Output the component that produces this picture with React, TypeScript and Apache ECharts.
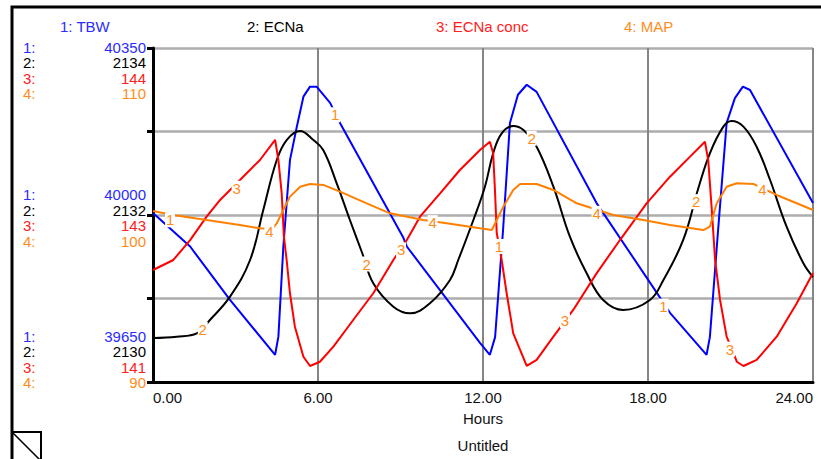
import React, { useEffect, useRef } from 'react';
import * as echarts from 'echarts';

const FONT = '"Liberation Sans", Arial, sans-serif';
const FS = 15;

const legendNames = ['1: TBW', '2: ECNa', '3: ECNa conc', '4: MAP'];
const lineColors = ['#0000ff', '#000000', '#ff0000', '#ff8000'];
const textColors = ['#2b2bff', '#000000', '#ff2020', '#ff8c1a'];
const labelOrange = '#ff8c1a';
const smoothing = [false, 0.4, false, false];

const xTicks = [0, 6, 12, 18, 24];
const tbwRange = [39650, 40350];
const ecnaRange = [2130, 2134];
const concRange = [141, 144];
const mapRange = [90, 110];

const tickLabelsTop = ['40350', '2134', '144', '110'];
const tickLabelsMid = ['40000', '2132', '143', '100'];
const tickLabelsBottom = ['39650', '2130', '141', '90'];

// 1: TBW
const tbw: [number, number][] = [
  [0, 40004], [1.35, 39934], [2.8, 39822], [4.44, 39707], [4.56, 39745], [4.74, 39934],
  [4.98, 40115], [5.23, 40185], [5.47, 40248], [5.71, 40269], [5.95, 40269], [6.44, 40235],
  [6.8, 40193], [9.09, 39954], [9.23, 39934], [11.89, 39732], [12.25, 39707], [12.44, 39744],
  [12.73, 39969], [12.98, 40193], [13.27, 40252], [13.59, 40273], [13.95, 40258], [16.13, 40025],
  [18.25, 39843], [18.8, 39795], [20.13, 39707], [20.25, 39744], [20.55, 39969], [20.86, 40193],
  [21.16, 40245], [21.45, 40269], [21.71, 40262], [24, 40025],
];

// 2: ECNa
const ecna: [number, number][] = [
  [0, 2130.527], [0.86, 2130.543], [1.59, 2130.583], [2.07, 2130.743], [2.8, 2131.022],
  [3.53, 2131.461], [4.01, 2132.06], [4.5, 2132.659], [4.86, 2132.898], [5.35, 2133.006],
  [5.83, 2132.898], [6.19, 2132.778], [6.68, 2132.38], [7.16, 2131.94], [7.59, 2131.56],
  [8.01, 2131.182], [8.74, 2130.902], [9.35, 2130.823], [10.07, 2130.943], [10.8, 2131.222],
  [11.1, 2131.461], [11.65, 2131.94], [12.07, 2132.339], [12.37, 2132.739], [12.68, 2132.978],
  [13.1, 2133.066], [13.47, 2133.018], [13.95, 2132.818], [14.56, 2132.339], [15.16, 2131.74],
  [15.77, 2131.302], [16.37, 2130.982], [17.1, 2130.862], [18.07, 2130.982], [18.56, 2131.222],
  [19.28, 2131.701], [19.83, 2132.32], [20.25, 2132.739], [20.74, 2133.058], [21.04, 2133.126],
  [21.47, 2133.058], [21.95, 2132.818], [22.44, 2132.419], [23.04, 2131.86], [23.65, 2131.422],
  [24, 2131.257],
];

// 3: ECNa conc
const conc: [number, number][] = [
  [0, 142.006], [0.74, 142.096], [1.35, 142.275], [1.95, 142.485], [2.44, 142.635],
  [3.28, 142.844], [3.89, 142.994], [4.44, 143.174], [4.56, 142.994], [4.68, 142.695],
  [4.76, 142.305], [4.86, 142.096], [4.98, 141.797], [5.16, 141.497], [5.47, 141.227],
  [5.71, 141.144], [6.07, 141.182], [6.56, 141.317], [7.28, 141.557], [8.01, 141.797],
  [8.74, 142.096], [9.23, 142.275], [9.71, 142.485], [10.44, 142.695], [11.16, 142.904],
  [11.89, 143.084], [12.25, 143.158], [12.37, 143.054], [12.44, 142.695], [12.5, 142.336],
  [12.68, 142.096], [12.86, 141.797], [13.1, 141.437], [13.59, 141.144], [13.95, 141.198],
  [14.56, 141.407], [15.28, 141.647], [16.13, 141.976], [16.98, 142.275], [17.95, 142.605],
  [18.8, 142.844], [19.53, 143.024], [20.07, 143.158], [20.19, 142.994], [20.32, 142.545],
  [20.44, 142.096], [20.62, 141.737], [20.86, 141.407], [21.23, 141.182], [21.47, 141.144],
  [21.95, 141.198], [22.68, 141.407], [23.41, 141.707], [24, 141.979],
];

// 4: MAP
const map: [number, number][] = [
  [0, 100.24], [0.74, 100.0], [1.95, 99.7], [3.16, 99.4], [3.89, 99.2], [4.33, 99.16],
  [4.5, 99.5], [4.74, 100.3], [4.98, 101.1], [5.35, 101.69], [5.71, 101.86], [6.19, 101.8],
  [6.8, 101.4], [7.77, 100.7], [8.62, 100.1], [9.83, 99.7], [10.68, 99.5], [11.89, 99.2],
  [12.32, 99.1], [12.5, 99.7], [12.74, 100.5], [13.1, 101.5], [13.35, 101.86], [13.95, 101.86],
  [14.56, 101.5], [15.41, 100.7], [16.74, 100.0], [17.83, 99.7], [18.8, 99.4], [20.01, 99.1],
  [20.25, 99.3], [20.5, 100.7], [20.86, 101.69], [21.23, 101.9], [21.83, 101.86],
  [22.68, 101.2], [24, 100.3],
];

// curve number markers
const tbwMarks: [number, number][] = [[0.62, 39990], [6.62, 40210], [12.58, 39934], [18.56, 39809]];
const ecnaMarks: [number, number][] = [[1.81, 2130.631], [7.77, 2131.413], [13.77, 2132.919], [19.75, 2132.159]];
const concMarks: [number, number][] = [[3.04, 142.74], [9.02, 142.186], [14.98, 141.551], [20.98, 141.294]];
const mapMarks: [number, number][] = [[4.23, 99.04], [10.17, 99.54], [16.13, 100.1], [22.16, 101.5]];

const seriesData = [tbw, ecna, conc, map];
const seriesMarks = [tbwMarks, ecnaMarks, concMarks, mapMarks];
const ranges = [tbwRange, ecnaRange, concRange, mapRange];

export default function App() {
  const ref = useRef<HTMLDivElement>(null);
  useEffect(() => {
    if (!ref.current) return;
    const chart = echarts.init(ref.current, undefined, { renderer: 'svg' });

    const graphics: any[] = [];
    graphics.push({
      type: 'rect', shape: { x: 12, y: 7, width: 900, height: 600 },
      style: { fill: 'none', stroke: '#000', lineWidth: 3 }, silent: true,
    });
    graphics.push({
      type: 'rect', shape: { x: 12, y: 432, width: 29, height: 40 },
      style: { fill: 'none', stroke: '#000', lineWidth: 2 }, silent: true,
    });
    graphics.push({
      type: 'line', shape: { x1: 12, y1: 432, x2: 41, y2: 461 },
      style: { stroke: '#000', lineWidth: 1.5 }, silent: true,
    });
    const legendX = [60, 247, 436, 624];
    legendNames.forEach((n, i) => {
      graphics.push({
        type: 'text', x: legendX[i], y: 26,
        style: { text: n, fill: textColors[i], font: `${FS}px ${FONT}`, textAlign: 'left', textVerticalAlign: 'middle' },
      });
    });
    const blocks = [
      { labels: tickLabelsTop, ys: [47, 62.5, 78, 93.5] },
      { labels: tickLabelsMid, ys: [194.5, 210, 225.5, 241] },
      { labels: tickLabelsBottom, ys: [336, 351.5, 367, 382.5] },
    ];
    blocks.forEach((b) => {
      b.labels.forEach((lab, i) => {
        graphics.push({
          type: 'text', x: 23, y: b.ys[i],
          style: { text: `${i + 1}:`, fill: textColors[i], font: `${FS}px ${FONT}`, textAlign: 'left', textVerticalAlign: 'middle' },
        });
        graphics.push({
          type: 'text', x: 146, y: b.ys[i],
          style: { text: lab, fill: textColors[i], font: `${FS}px ${FONT}`, textAlign: 'right', textVerticalAlign: 'middle' },
        });
      });
    });
    graphics.push({
      type: 'text', x: 483, y: 445,
      style: { text: 'Untitled', fill: '#111', font: `${FS}px ${FONT}`, textAlign: 'center', textVerticalAlign: 'middle' },
    });

    const yAxes = ranges.map((r, i) => {
      const visible = i === 3;
      return {
        type: 'value', min: r[0], max: r[1], show: visible,
        ...(visible ? { interval: 5 } : {}),
        position: 'left',
        axisLine: { show: visible, lineStyle: { color: '#000', width: 3 } },
        axisTick: { show: visible, length: 6, lineStyle: { color: '#000', width: 3 } },
        axisLabel: { show: false },
        splitLine: { show: visible, lineStyle: { color: '#adadad', width: 2.5 } },
      };
    });

    chart.setOption({
      animation: false,
      backgroundColor: '#ffffff',
      grid: { left: 153, right: 8, top: 48, bottom: 77, containLabel: false },
      xAxis: {
        type: 'value', min: 0, max: 24, interval: 6,
        axisLine: { lineStyle: { color: '#000', width: 3 } },
        axisTick: { show: false },
        axisLabel: {
          formatter: (v: number) => (xTicks.includes(v) ? v.toFixed(2) : ''),
          color: '#111', fontSize: FS, fontFamily: FONT, margin: 8,
          alignMinLabel: 'left', alignMaxLabel: 'right',
        },
        splitLine: { show: true, lineStyle: { color: '#858585', width: 2 } },
        name: 'Hours', nameLocation: 'middle', nameGap: 29,
        nameTextStyle: { color: '#111', fontSize: FS, fontFamily: FONT },
      },
      yAxis: yAxes,
      series: seriesData.map((d, i) => ({
        type: 'line', name: legendNames[i], yAxisIndex: i, data: d,
        showSymbol: false, symbol: 'none', smooth: smoothing[i],
        lineStyle: { color: lineColors[i], width: 2 },
        itemStyle: { color: lineColors[i] },
        z: 2 + i,
        markPoint: {
          z: 20, silent: true, symbol: 'rect', symbolSize: [10, 15],
          itemStyle: { color: '#ffffff' },
          label: { show: true, position: 'inside', formatter: String(i + 1), color: labelOrange, fontSize: FS, fontFamily: FONT },
          data: seriesMarks[i].map((m) => ({ coord: m })),
        },
      })),
      graphic: graphics,
    });
    return () => chart.dispose();
  }, []);
  return <div ref={ref} style={{ position: 'absolute', left: 0, top: 0, width: 821, height: 459, background: '#fff' }} />;
}
